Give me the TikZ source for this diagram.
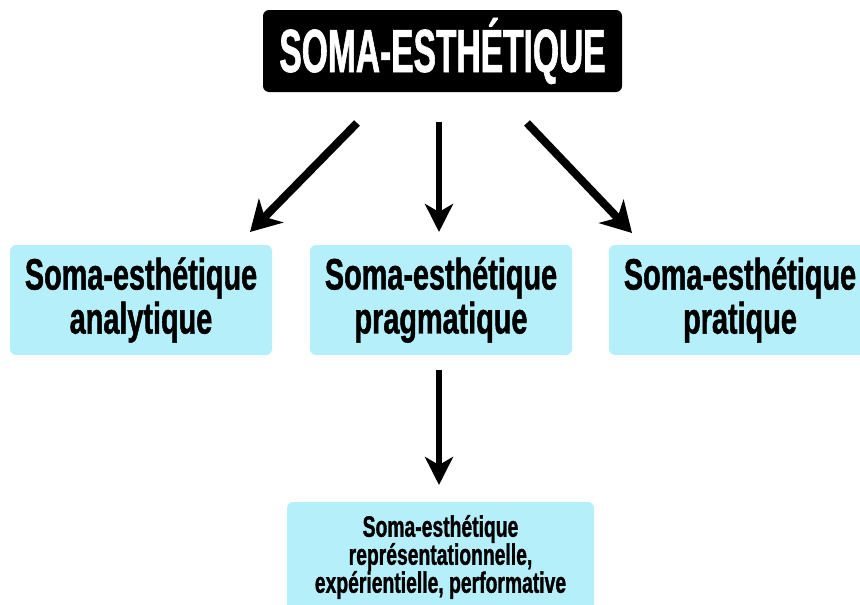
\documentclass[tikz,border=0pt]{standalone}
\usepackage{fontspec}
\usetikzlibrary{arrows.meta}
\newfontfamily\titlefont{Liberation Sans Bold}[FakeStretch=0.55,FakeBold=1.0]
\newfontfamily\boxfont{Liberation Sans Bold}[FakeStretch=0.655,FakeBold=1.0]
\definecolor{boxcyan}{RGB}{181,239,249}
\tikzset{
  titlebox/.style={fill=black, rounded corners=6pt, minimum width=359pt, minimum height=82pt, inner sep=0pt, text=white,
    font=\titlefont\fontsize{61}{60}\selectfont},
  subbox/.style={fill=boxcyan, rounded corners=6pt, minimum width=262pt, minimum height=110pt, inner sep=0pt, align=center,
    font=\boxfont\fontsize{44}{44}\selectfont},
  leafbox/.style={fill=boxcyan, rounded corners=6pt, minimum width=307pt, minimum height=110pt, inner sep=0pt, align=center,
    font=\boxfont\fontsize{29.5}{28}\selectfont},
  bigarrow/.style={line width=8pt, -{Stealth[length=30pt,width=34pt,inset=9pt]}},
  midarrow/.style={line width=6pt, -{Stealth[length=28pt,width=28pt,inset=8pt]}},
}
\begin{document}
\begin{tikzpicture}[x=1pt,y=-1pt]
\useasboundingbox (0,0) rectangle (860,605);
\node[titlebox] (title) at (442.5,51) {SOMA-ESTHÉTIQUE};
\node[subbox] (ana) at (141,300) {Soma-esthétique\\analytique};
\node[subbox] (prag) at (441,300) {Soma-esthétique\\pragmatique};
\node[subbox] (prat) at (740,300) {Soma-esthétique\\pratique};
\node[leafbox] (leaf) at (440.5,557) {Soma-esthétique\\représentationnelle,\\expérientielle, performative};
\coordinate (a1s) at (357,123);
\coordinate (a1e) at (250,232);
\coordinate (a2s) at (439,122);
\coordinate (a2e) at (439,232);
\coordinate (a3s) at (527,123);
\coordinate (a3e) at (632,233);
\coordinate (a4s) at (439,370);
\coordinate (a4e) at (439,485);
\draw[bigarrow] (a1s) -- (a1e);
\draw[midarrow] (a2s) -- (a2e);
\draw[bigarrow] (a3s) -- (a3e);
\draw[midarrow] (a4s) -- (a4e);
\end{tikzpicture}
\end{document}
